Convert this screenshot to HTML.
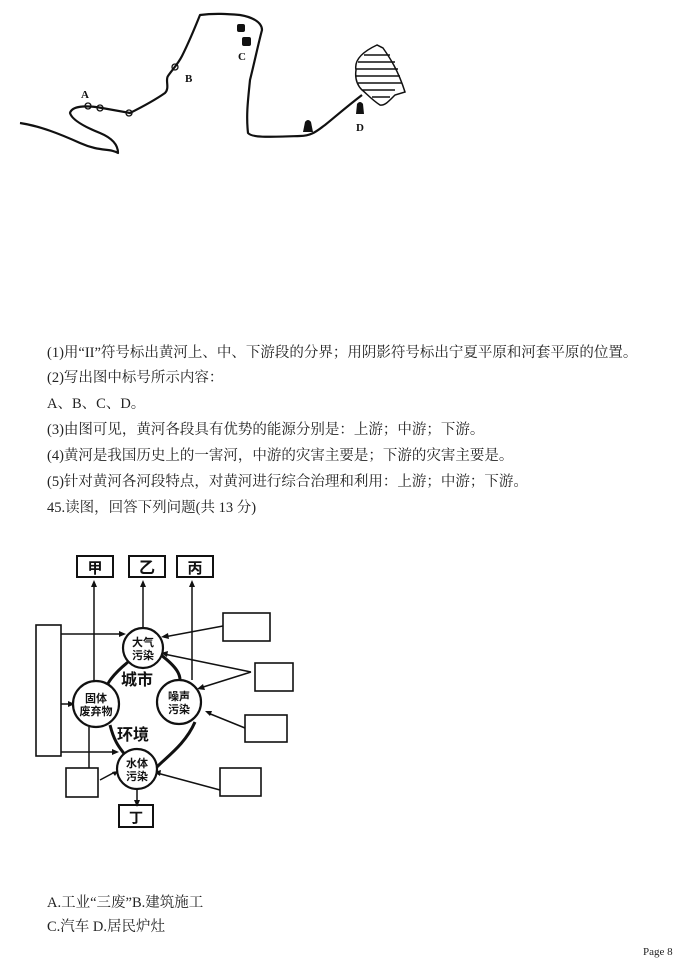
<!DOCTYPE html>
<html><head><meta charset="utf-8"><style>
body{margin:0;width:700px;height:967px;background:#fff;position:relative;overflow:hidden;font-family:"Liberation Serif","Noto Serif CJK SC",serif;color:#222}
.t{position:absolute;left:47px;font-size:14.5px;white-space:nowrap;line-height:18px}
svg{position:absolute;left:0;top:0}
</style></head><body>
<svg width="700" height="967" viewBox="0 0 700 967">
<g fill="none" stroke="#111" stroke-width="2.2" stroke-linejoin="round">
<path d="M20,123 C40,126 60,134 80,143 S110,148 118,153 C118,145 112,138 100,133 C85,127 72,120 70,113 C72,106 85,105 102,108 L130,113 C140,108 155,100 165,93 C170,88 165,80 168,76 C172,70 178,64 182,56 C190,40 196,25 200,15 C215,13 228,14 240,15 C252,17 262,22 262,30 C258,45 255,60 250,80 C248,100 246,115 248,133 C252,138 270,137 300,136 C312,136 318,130 325,125 C335,117 345,108 362,95"/>
</g>
<g fill="#111">
<rect x="237" y="24" width="8" height="8" rx="2"/><rect x="242" y="37" width="9" height="9" rx="2"/>
<path d="M303,132 L305,122 Q308,118 311,122 L313,132Z"/>
<path d="M356,114 L357,104 Q360,100 363,104 L364,114Z"/>
</g>
<g fill="none" stroke="#111" stroke-width="1.5">
<path d="M356,70 C354,60 362,52 377,45 L383,48 C390,58 398,70 405,92 L395,95 C390,100 385,106 380,105 C372,100 365,92 362,90 C356,84 355,77 356,70Z"/>
<path d="M364,55 H390 M358,62 H395 M356,69 H398 M356,76 H400 M358,83 H402 M362,90 H395 M372,97 H390"/>
</g>
<g fill="none" stroke="#111" stroke-width="1.3">
<circle cx="88" cy="106" r="3"/><circle cx="100" cy="108" r="3"/><circle cx="129" cy="113" r="3"/><circle cx="175" cy="67" r="3"/>
</g>
<g font-family="Liberation Serif" font-weight="bold" font-size="11" fill="#111">
<text x="81" y="98">A</text><text x="185" y="82">B</text><text x="238" y="60">C</text><text x="356" y="131">D</text>
</g>
<!-- diagram -->
<g fill="none" stroke="#111" stroke-width="2">
<rect x="77" y="556" width="36" height="21"/><rect x="129" y="556" width="36" height="21"/><rect x="177" y="556" width="36" height="21"/>
<rect x="36" y="625" width="25" height="131" stroke-width="1.6"/>
<rect x="223" y="613" width="47" height="28" stroke-width="1.6"/>
<rect x="255" y="663" width="38" height="28" stroke-width="1.6"/>
<rect x="245" y="715" width="42" height="27" stroke-width="1.6"/>
<rect x="220" y="768" width="41" height="28" stroke-width="1.6"/>
<rect x="66" y="768" width="32" height="29" stroke-width="1.6"/>
<rect x="119" y="805" width="34" height="22"/>
<path d="M128,662 C112,675 106,685 107,688 M161,655 C178,668 180,675 180,680 M110,725 C115,745 122,750 125,755 M195,722 C185,745 165,758 156,768" stroke-width="3"/>
</g>
<g stroke="#111" stroke-width="1.5" fill="none">
<path d="M94,683 V584 M143,628 V584 M192,680 V584"/>
<path d="M61,634 H122 M61,704 H72 M61,752 H116"/>
<path d="M223,626 L164,637 M251,672 L164,654 M251,672 L200,688 M245,728 L208,713 M220,790 L157,773 M89,727 V768 M100,780 L115,772 M137,790 V804"/>
</g>
<g fill="#111">
<path d="M94,580 l-3,7 h6z M143,580 l-3,7 h6z M192,580 l-3,7 h6z M126,634 l-7,-3 v6z M75,704 l-7,-3 v6z M119,752 l-7,-3 v6z M161,637 l7,-4 l1,6z M161,653 l7,-2 l-1,6z M197,689 l6,-5 l2,6z M205,711 l7,0 l-2,5z M154,772 l7,-2 l-1,6z M118,771 l-6,1 l3,4z M137,807 l-3,-7 h6z"/>
</g>
<g fill="#fff" stroke="#111" stroke-width="2.2">
<circle cx="143" cy="648" r="20"/><circle cx="96" cy="704" r="23"/><circle cx="179" cy="702" r="22"/><circle cx="137" cy="769" r="20"/>
</g>
<g font-family="Noto Sans CJK SC,sans-serif" font-weight="bold" fill="#111" text-anchor="middle">
<text x="95" y="573" font-size="15">甲</text><text x="147" y="573" font-size="16">乙</text><text x="195" y="573" font-size="15">丙</text>
<text x="136" y="823" font-size="14">丁</text>
<g font-size="11"><text x="143" y="646">大气</text><text x="143" y="659">污染</text>
<text x="96" y="702">固体</text><text x="96" y="715">废弃物</text>
<text x="179" y="700">噪声</text><text x="179" y="713">污染</text>
<text x="137" y="767">水体</text><text x="137" y="780">污染</text></g>
<text x="137" y="685" font-size="16">城市</text><text x="133" y="740" font-size="16">环境</text>
</g>
</svg>
<div class="t" style="top:344px">(1)用“II”符号标出黄河上、中、下游段的分界；用阴影符号标出宁夏平原和河套平原的位置。</div>
<div class="t" style="top:369px">(2)写出图中标号所示内容：</div>
<div class="t" style="top:395px">A、B、C、D。</div>
<div class="t" style="top:421px">(3)由图可见，黄河各段具有优势的能源分别是：上游；中游；下游。</div>
<div class="t" style="top:447px">(4)黄河是我国历史上的一害河，中游的灾害主要是；下游的灾害主要是。</div>
<div class="t" style="top:473px">(5)针对黄河各河段特点，对黄河进行综合治理和利用：上游；中游；下游。</div>
<div class="t" style="top:499px">45.读图，回答下列问题(共 13 分)</div>
<div class="t" style="top:894px">A.工业“三废”B.建筑施工</div>
<div class="t" style="top:918px">C.汽车 D.居民炉灶</div>
<div style="position:absolute;left:643px;top:946px;font-size:11px;font-family:'Liberation Serif',serif">Page 8</div>
</body></html>
